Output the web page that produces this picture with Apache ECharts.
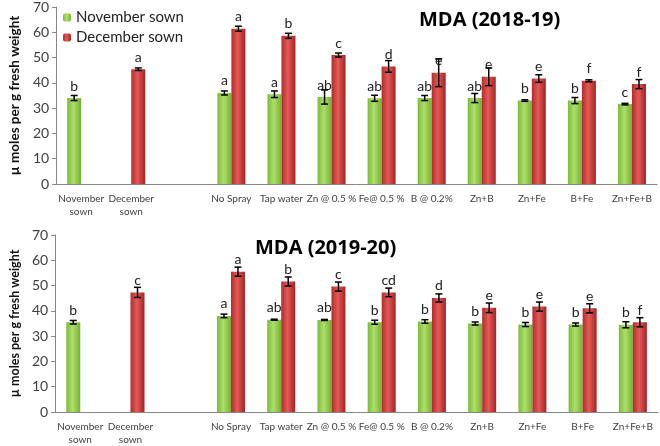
<!DOCTYPE html>
<html>
<head>
<meta charset="utf-8">
<script src="https://cdn.jsdelivr.net/npm/echarts@6/dist/echarts.min.js"></script>
<style>
  html, body { margin: 0; padding: 0; background: #fff; }
  #chart { width: 660px; height: 446px; }
</style>
</head>
<body>
<div id="chart"></div>
<script>
// categories on the x axis (third one is an empty spacer)
const categories = ['November\nsown', 'December\nsown', '', 'No Spray', 'Tap water', 'Zn @ 0.5 %',
  'Fe@ 0.5 %', 'B @ 0.2%', 'Zn+B', 'Zn+Fe', 'B+Fe', 'Zn+Fe+B']
const yTicks = [0, 10, 20, 30, 40, 50, 60, 70]

// MDA 2018-19
const nov1819 = [34.0, null, null, 36.0, 35.5, 34.4, 33.9, 34.0, 34.0, 33.0, 33.0, 31.6]
const nov1819Err = [1.0, null, null, 0.8, 1.3, 2.8, 1.2, 1.0, 1.8, 0.3, 1.2, 0.3]
const nov1819Let = ['b', '', '', 'a', 'a', 'ab', 'ab', 'ab', 'ab', 'b', 'b', 'c']
const dec1819 = [null, 45.4, null, 61.4, 58.6, 51.0, 46.5, 44.0, 42.4, 41.7, 40.8, 39.5]
const dec1819Err = [null, 0.5, null, 1.0, 1.0, 0.8, 2.3, 5.5, 3.5, 1.5, 0.4, 1.8]
const dec1819Let = ['', 'a', '', 'a', 'b', 'c', 'd', 'e', 'e', 'e', 'f', 'f']

// MDA 2019-20
const nov1920 = [35.5, null, null, 38.0, 36.5, 36.4, 35.5, 35.8, 35.0, 34.6, 34.6, 34.5]
const nov1920Err = [0.7, null, null, 0.7, 0.2, 0.2, 0.8, 0.7, 0.6, 0.8, 0.6, 1.2]
const nov1920Let = ['b', '', '', 'a', 'ab', 'ab', 'b', 'b', 'b', 'b', 'b', 'b']
const dec1920 = [null, 47.3, null, 55.5, 51.6, 49.6, 47.3, 45.1, 41.2, 41.7, 41.0, 35.5]
const dec1920Err = [null, 2.0, null, 1.8, 1.8, 1.8, 1.7, 1.6, 1.9, 1.8, 1.8, 1.8]
const dec1920Let = ['', 'c', '', 'a', 'b', 'c', 'cd', 'd', 'e', 'e', 'e', 'f']

const FONT = 'Lato'
const BAR_W = 14

const greenFill = {type: 'linear', x: 0, y: 0, x2: 1, y2: 0, colorStops: [
  {offset: 0, color: '#7cba38'}, {offset: 0.45, color: '#addf6a'}, {offset: 1, color: '#74b034'}]}
const redFill = {type: 'linear', x: 0, y: 0, x2: 1, y2: 0, colorStops: [
  {offset: 0, color: '#b02c2c'}, {offset: 0.45, color: '#e45a56'}, {offset: 1, color: '#a32424'}]}

function barSeries(name, values, letters, fill, idx){
  return {
    name, type: 'bar', xAxisIndex: idx, yAxisIndex: idx,
    data: values, barWidth: BAR_W, barGap: '0%',
    itemStyle: {color: fill},
    label: {
      show: true, position: 'top', distance: 5,
      fontFamily: FONT, fontSize: 14, color: '#222',
      formatter: p => letters[p.dataIndex]
    }
  }
}

function errSeries(values, errs, side, idx){
  const data = []
  values.forEach((v, i) => { if(v !== null) data.push([i, v, errs[i]]) })
  return {
    type: 'custom', xAxisIndex: idx, yAxisIndex: idx, z: 5, silent: true,
    data,
    renderItem: (params, api) => {
      const i = api.value(0), v = api.value(1), e = api.value(2)
      const off = side * BAR_W / 2
      const hi = api.coord([i, v + e]), lo = api.coord([i, v - e])
      const x = hi[0] + off
      const st = {stroke: '#000', lineWidth: 1.5}
      return {type: 'group', children: [
        {type: 'line', shape: {x1: x, y1: hi[1], x2: x, y2: lo[1]}, style: st},
        {type: 'line', shape: {x1: x - 3.5, y1: hi[1], x2: x + 3.5, y2: hi[1]}, style: st},
        {type: 'line', shape: {x1: x - 3.5, y1: lo[1], x2: x + 3.5, y2: lo[1]}, style: st}
      ]}
    }
  }
}

function xAxis(idx){
  return {
    type: 'category', gridIndex: idx, data: categories,
    axisLine: {lineStyle: {color: '#868686'}},
    axisTick: {length: 5, lineStyle: {color: '#868686'}},
    axisLabel: {fontFamily: FONT, fontSize: 10, color: '#404040', margin: 8, lineHeight: 13, interval: 0}
  }
}

function yAxis(idx, nameSize){
  return {
    type: 'value', gridIndex: idx, min: yTicks[0], max: yTicks[yTicks.length - 1], interval: 10,
    name: 'µ moles per g fresh weight', nameLocation: 'middle', nameGap: 28,
    nameTextStyle: {fontFamily: FONT, fontSize: nameSize, fontWeight: 'bold', color: '#111'},
    axisLine: {show: true, lineStyle: {color: '#868686'}},
    axisTick: {show: true, length: 4, lineStyle: {color: '#868686'}},
    splitLine: {show: false},
    axisLabel: {fontFamily: FONT, fontSize: 14, color: '#404040', margin: 7}
  }
}

const chart = echarts.init(document.getElementById('chart'))
chart.setOption({
  animation: false,
  backgroundColor: '#fff',
  title: [
    {text: 'MDA (2018-19)', left: 414, top: 5,
      textStyle: {fontFamily: 'Open Sans', fontSize: 20, fontWeight: 'bold', color: '#000'}},
    {text: 'MDA (2019-20)', left: 250, top: 233,
      textStyle: {fontFamily: 'Open Sans', fontSize: 20, fontWeight: 'bold', color: '#000'}}
  ],
  legend: {
    data: ['November sown', 'December sown'], orient: 'vertical', left: 58, top: 5,
    itemWidth: 8, itemHeight: 8, itemGap: 5,
    textStyle: {fontFamily: FONT, fontSize: 15, color: '#222'}
  },
  grid: [
    {left: 45, right: 3, top: 5, height: 179},
    {left: 42, right: 2, top: 235, height: 181}
  ],
  xAxis: [xAxis(0), xAxis(1)],
  yAxis: [yAxis(0, 13.5), yAxis(1, 12.5)],
  series: [
    barSeries('November sown', nov1819, nov1819Let, greenFill, 0),
    barSeries('December sown', dec1819, dec1819Let, redFill, 0),
    barSeries('November sown', nov1920, nov1920Let, greenFill, 1),
    barSeries('December sown', dec1920, dec1920Let, redFill, 1),
    errSeries(nov1819, nov1819Err, -1, 0),
    errSeries(dec1819, dec1819Err, 1, 0),
    errSeries(nov1920, nov1920Err, -1, 1),
    errSeries(dec1920, dec1920Err, 1, 1)
  ]
})
</script>
</body>
</html>
